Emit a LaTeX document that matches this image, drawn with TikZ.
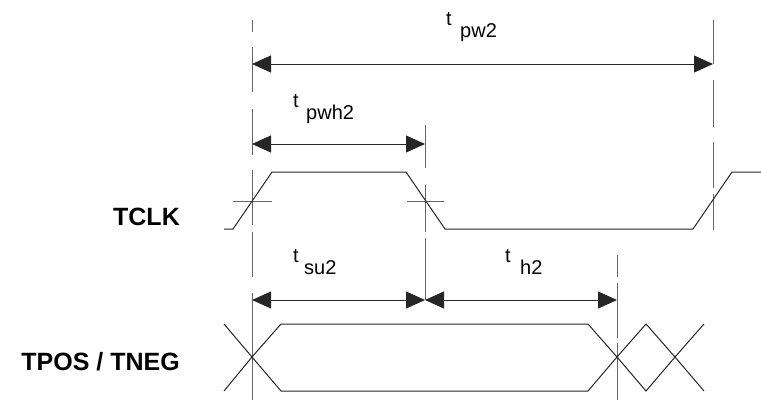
\documentclass[tikz,border=0pt]{standalone}
\usepackage{fontspec}
\setmainfont{Liberation Sans}
\usetikzlibrary{arrows.meta}
\begin{document}
\begin{tikzpicture}[x=1pt,y=-1pt,
  wave/.style={line width=1pt, draw=black!85},
  guide/.style={line width=1pt, draw=black!60},
  dimline/.style={line width=1pt, draw=black!85,
     {Triangle[length=19pt,width=17pt]}-{Triangle[length=19pt,width=17pt]}},
  lbl/.style={font=\fontsize{20}{22}\selectfont, inner sep=0pt, anchor=base west},
  sig/.style={font=\bfseries\fontsize{25}{28}\selectfont, inner sep=0pt, anchor=base east}]
\useasboundingbox (0,0) rectangle (761,400);

% signal names
\node[sig] (tclk) at (180,225) {TCLK};
\node[sig] (tpos) at (180,370) {TPOS / TNEG};

% guide line at x=252
\draw[guide] (252,20) -- (252,32);
\draw[guide] (252,47) -- (252,92);
\draw[guide] (252,109) -- (252,155);
\draw[guide] (252,170) -- (252,225);
\draw[guide] (252,232) -- (252,277);
\draw[guide] (252,293) -- (252,400);
% guide line at x=425
\draw[guide] (425,125) -- (425,168);
\draw[guide] (425,185) -- (425,232);
\draw[guide] (425,238) -- (425,300);
% guide line at x=713
\draw[guide] (713,20) -- (713,64);
\draw[guide] (713,80) -- (713,127);
\draw[guide] (713,142) -- (713,188);
\draw[guide] (713,194) -- (713,230);
% guide line at x=617
\draw[guide] (617,255) -- (617,277);
\draw[guide] (617,283) -- (617,338);
\draw[guide] (617,343) -- (617,400);

% crossing ticks on TCLK
\draw[guide] (233,201) -- (272,201);
\draw[guide] (407,201) -- (444,201);

% TCLK waveform
\draw[wave] (224,229) -- (233,229) -- (272,172) -- (406,172) -- (445,229)
   -- (693,229) -- (732,172) -- (761,172);

% TPOS / TNEG waveform
\draw[wave] (224,324) -- (252,357) -- (281,391) -- (588,391) -- (617,357)
   -- (646,324) -- (675,357) -- (704,391);
\draw[wave] (224,391) -- (252,357) -- (281,324) -- (588,324) -- (617,357)
   -- (646,391) -- (675,357) -- (704,324);

% dimension arrows
\coordinate (pwA) at (252,64);
\coordinate (pwB) at (713,64);
\coordinate (pwhA) at (252,144);
\coordinate (pwhB) at (425,144);
\coordinate (suA) at (252,300);
\coordinate (suB) at (425,300);
\coordinate (hB) at (617,300);
\draw[dimline] (pwA) -- (pwB);
\draw[dimline] (pwhA) -- (pwhB);
\draw[dimline] (suA) -- (suB);
\draw[dimline] (suB) -- (hB);

% labels
\node[lbl] (tpw) at (446,25) {t};
\node[lbl] (tpwsub) at (460,37) {pw2};
\node[lbl] (tpwh) at (293,107) {t};
\node[lbl] (tpwhsub) at (306,119) {pwh2};
\node[lbl] (tsu) at (293,262) {t};
\node[lbl] (tsusub) at (304,274) {su2};
\node[lbl] (th) at (505,262) {t};
\node[lbl] (thsub) at (520,274) {h2};
\end{tikzpicture}
\end{document}
